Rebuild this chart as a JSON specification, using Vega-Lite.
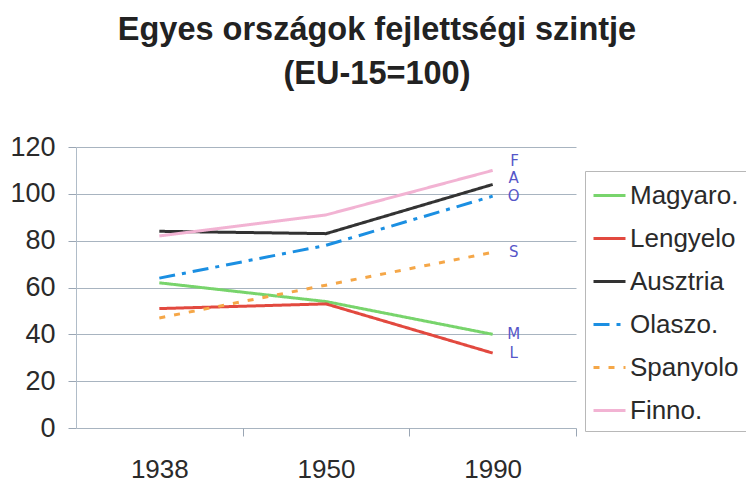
{
  "$schema": "https://vega.github.io/schema/vega-lite/v6.json",
  "autosize": {"type": "none"},
  "width": 500,
  "height": 281,
  "padding": {"left": 76, "top": 147, "right": 170, "bottom": 54},
  "background": "white",
  "title": {
    "text": ["Egyes országok fejlettségi szintje", "(EU-15=100)"],
    "font": "Liberation Sans",
    "fontSize": 32.5,
    "fontWeight": "bold",
    "color": "#222222",
    "lineHeight": 44,
    "anchor": "middle",
    "frame": "group",
    "dx": 51,
    "offset": 43
  },
  "data": {
    "values": [
      {"orszag": "Magyaro.", "ev": "1938", "ertek": 62, "jel": "M"},
      {"orszag": "Magyaro.", "ev": "1950", "ertek": 54, "jel": "M"},
      {"orszag": "Magyaro.", "ev": "1990", "ertek": 40, "jel": "M"},
      {"orszag": "Lengyelo", "ev": "1938", "ertek": 51, "jel": "L"},
      {"orszag": "Lengyelo", "ev": "1950", "ertek": 53, "jel": "L"},
      {"orszag": "Lengyelo", "ev": "1990", "ertek": 32, "jel": "L"},
      {"orszag": "Ausztria", "ev": "1938", "ertek": 84, "jel": "A"},
      {"orszag": "Ausztria", "ev": "1950", "ertek": 83, "jel": "A"},
      {"orszag": "Ausztria", "ev": "1990", "ertek": 104, "jel": "A"},
      {"orszag": "Olaszo.", "ev": "1938", "ertek": 64, "jel": "O"},
      {"orszag": "Olaszo.", "ev": "1950", "ertek": 78, "jel": "O"},
      {"orszag": "Olaszo.", "ev": "1990", "ertek": 99, "jel": "O"},
      {"orszag": "Spanyolo", "ev": "1938", "ertek": 47, "jel": "S"},
      {"orszag": "Spanyolo", "ev": "1950", "ertek": 61, "jel": "S"},
      {"orszag": "Spanyolo", "ev": "1990", "ertek": 75, "jel": "S"},
      {"orszag": "Finno.", "ev": "1938", "ertek": 82, "jel": "F"},
      {"orszag": "Finno.", "ev": "1950", "ertek": 91, "jel": "F"},
      {"orszag": "Finno.", "ev": "1990", "ertek": 110, "jel": "F"}
    ]
  },
  "encoding": {
    "x": {
      "field": "ev",
      "type": "ordinal",
      "scale": {"type": "point", "padding": 0.5},
      "axis": {
        "title": null,
        "labelAngle": 0,
        "labelFont": "Liberation Sans",
        "labelFontSize": 26,
        "labelColor": "#2a2a2a",
        "labelPadding": 20,
        "labelOffset": -83.3,
        "domain": false,
        "ticks": true,
        "tickSize": 8,
        "tickOffset": 83.3,
        "tickColor": "#9aa6b4",
        "grid": false
      }
    },
    "y": {
      "field": "ertek",
      "type": "quantitative",
      "scale": {"domain": [0, 120], "nice": false},
      "axis": {
        "title": null,
        "values": [0, 20, 40, 60, 80, 100, 120],
        "labelFont": "Liberation Sans",
        "labelFontSize": 27,
        "labelColor": "#2a2a2a",
        "labelPadding": 13,
        "tickSize": 8,
        "tickColor": "#9aa6b4",
        "domainColor": "#b0bcc8",
        "grid": true,
        "gridColor": "#a8b4c0",
        "gridWidth": 1
      }
    }
  },
  "layer": [
    {
      "mark": {"type": "line", "strokeWidth": 3},
      "encoding": {
        "color": {
          "field": "orszag",
          "type": "nominal",
          "scale": {
            "domain": ["Magyaro.", "Lengyelo", "Ausztria", "Olaszo.", "Spanyolo", "Finno."],
            "range": ["#78d46c", "#e2493f", "#333333", "#1b8fe2", "#f5a748", "#f2b3d3"]
          },
          "legend": {
            "title": null,
            "orient": "none",
            "legendX": 509,
            "legendY": 24,
            "padding": 7,
            "strokeColor": "#b8b8b8",
            "fillColor": "white",
            "symbolType": "stroke",
            "symbolSize": 1024,
            "symbolStrokeWidth": 3,
            "labelFont": "Liberation Sans",
            "labelFontSize": 26,
            "labelColor": "#2a2a2a",
            "labelOffset": 3,
            "rowPadding": 12,
            "labelLimit": 300
          }
        },
        "strokeDash": {
          "field": "orszag",
          "type": "nominal",
          "scale": {
            "domain": ["Magyaro.", "Lengyelo", "Ausztria", "Olaszo.", "Spanyolo", "Finno."],
            "range": [[1, 0], [1, 0], [1, 0], [16, 7, 4, 7], [6, 9], [1, 0]]
          },
          "legend": null
        }
      }
    },
    {
      "mark": {"type": "text", "dx": 22, "dy": -9, "font": "DejaVu Sans", "fontSize": 15, "color": "#5656c8"},
      "transform": [{"filter": "datum.ev == '1990' && datum.jel == 'F'"}],
      "encoding": {"text": {"field": "jel"}}
    },
    {
      "mark": {"type": "text", "dx": 21, "dy": -6, "font": "DejaVu Sans", "fontSize": 15, "color": "#5656c8"},
      "transform": [{"filter": "datum.ev == '1990' && datum.jel == 'A'"}],
      "encoding": {"text": {"field": "jel"}}
    },
    {
      "mark": {"type": "text", "dx": 21, "dy": 0, "font": "DejaVu Sans", "fontSize": 15, "color": "#5656c8"},
      "transform": [{"filter": "datum.ev == '1990' && datum.jel != 'F' && datum.jel != 'A'"}],
      "encoding": {"text": {"field": "jel"}}
    }
  ],
  "config": {"view": {"stroke": null}}
}
